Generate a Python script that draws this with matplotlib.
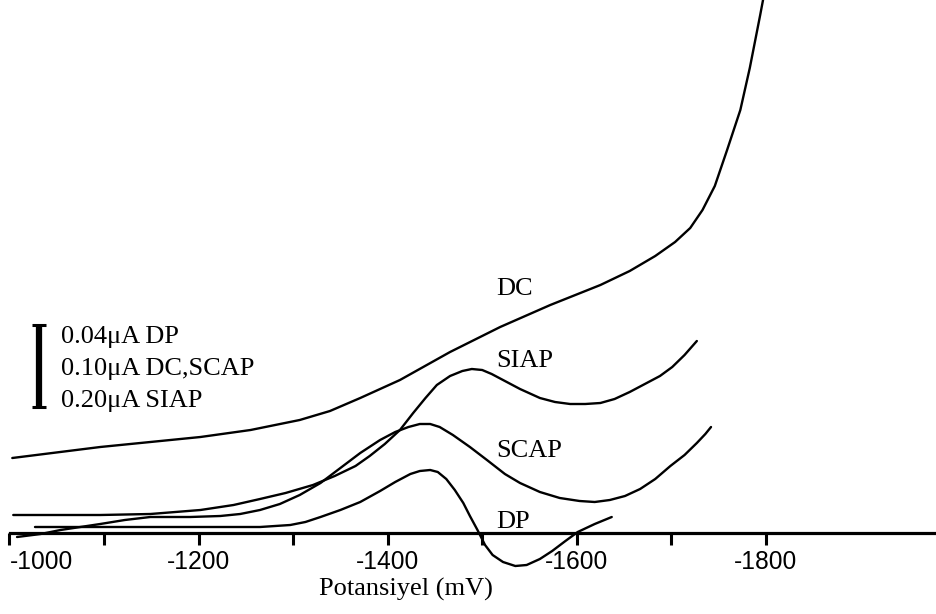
"""Polarogram comparison: DC, SIAP, SCAP and DP curves vs potential."""

import matplotlib

matplotlib.use("Agg")
import matplotlib.pyplot as plt
import numpy as np

# potential (mV) and signal (arbitrary units)
dc_mv = [-1003, -1096, -1202, -1255, -1307, -1339, -1371, -1413, -1466, -1519,
         -1572, -1625, -1656, -1683, -1704, -1720, -1733, -1746, -1759, -1773,
         -1783, -1794, -1797]
dc_i = [0.75, 0.86, 0.96, 1.03, 1.13, 1.22, 1.35, 1.53, 1.81, 2.06,
        2.28, 2.48, 2.62, 2.77, 2.91, 3.05, 3.23, 3.47, 3.83, 4.23,
        4.65, 5.18, 5.33]

siap_mv = [-1004, -1096, -1149, -1202, -1237, -1265, -1292, -1321, -1344, -1366,
           -1381, -1397, -1413, -1427, -1440, -1452, -1466, -1479, -1489, -1500,
           -1510, -1524, -1540, -1561, -1577, -1593, -1609, -1625, -1640, -1656,
           -1672, -1688, -1701, -1714, -1727]
siap_i = [0.18, 0.18, 0.19, 0.23, 0.28, 0.34, 0.40, 0.48, 0.57, 0.67,
          0.77, 0.89, 1.03, 1.20, 1.35, 1.48, 1.57, 1.62, 1.64, 1.63,
          1.59, 1.52, 1.44, 1.35, 1.31, 1.29, 1.29, 1.30, 1.34, 1.41,
          1.49, 1.57, 1.66, 1.78, 1.92]

scap_mv = [-1008, -1033, -1054, -1075, -1096, -1122, -1149, -1191, -1223, -1244,
           -1265, -1286, -1307, -1329, -1350, -1371, -1392, -1408, -1422, -1434,
           -1445, -1455, -1469, -1487, -1505, -1524, -1540, -1561, -1582, -1603,
           -1619, -1635, -1651, -1667, -1683, -1699, -1714, -1727, -1736, -1742]
scap_i = [-0.04, -0.01, 0.03, 0.06, 0.09, 0.13, 0.16, 0.16, 0.17, 0.19,
          0.23, 0.29, 0.38, 0.50, 0.65, 0.80, 0.93, 1.01, 1.06, 1.09,
          1.09, 1.06, 0.98, 0.86, 0.73, 0.59, 0.50, 0.41, 0.35, 0.32,
          0.31, 0.33, 0.37, 0.44, 0.54, 0.67, 0.78, 0.90, 0.99, 1.06]

dp_mv = [-1027, -1149, -1265, -1297, -1313, -1329, -1350, -1371, -1392, -1408,
         -1424, -1434, -1445, -1453, -1462, -1471, -1480, -1487, -1495, -1503,
         -1511, -1522, -1535, -1547, -1561, -1574, -1588, -1601, -1619, -1637]
dp_i = [0.06, 0.06, 0.06, 0.08, 0.11, 0.16, 0.23, 0.31, 0.42, 0.51,
        0.59, 0.62, 0.63, 0.61, 0.54, 0.43, 0.30, 0.17, 0.03, -0.12,
        -0.22, -0.29, -0.33, -0.32, -0.26, -0.18, -0.08, 0.01, 0.09, 0.16]

major_ticks = [-1000, -1200, -1400, -1600, -1800]
minor_ticks = [-1100, -1300, -1500, -1700]
scale_lines = ["0.04\u03bcA DP", "0.10\u03bcA DC,SCAP", "0.20\u03bcA SIAP"]

SERIF = "Liberation Serif"
SANS = "Liberation Sans"

fig = plt.figure(figsize=(9.37, 6.14), dpi=100)
ax = fig.add_axes([0, 81 / 614, 1, 533 / 614])

line_kw = dict(color="black", lw=1.7, clip_on=False, solid_joinstyle="round",
               solid_capstyle="round")
ax.plot(dc_mv, dc_i, **line_kw)
ax.plot(siap_mv, siap_i, **line_kw)
ax.plot(scap_mv, scap_i, **line_kw)
ax.plot(dp_mv, dp_i, **line_kw)

# curve labels
for name, yb in [("DC", 2.38), ("SIAP", 1.66), ("SCAP", 0.76), ("DP", 0.05)]:
    ax.text(-1515, yb, name, fontsize=19, family=SERIF, ha="left", va="baseline")

# scale bar + legend text
bx, b0, b1, cw = 39 / 937, (533 - 407) / 533, (533 - 325) / 533, 7 / 937
ax.plot([bx, bx], [b0, b1], color="black", lw=4.5, transform=ax.transAxes,
        solid_capstyle="butt")
for yy in (b0, b1):
    ax.plot([bx - cw, bx + cw], [yy, yy], color="black", lw=2.2,
            transform=ax.transAxes, solid_capstyle="butt")
for k, txt in enumerate(scale_lines):
    ax.text(61 / 937, (533 - 343 - 32 * k) / 533, txt, transform=ax.transAxes,
            fontsize=19, family=SERIF, ha="left", va="baseline")

ax.set_xlim(-990, -1981)
ax.set_ylim(0, 5.33)
ax.set_xticks(major_ticks)
ax.set_xticks(minor_ticks, minor=True)
ax.set_xticklabels([str(t) for t in major_ticks], fontsize=17.7, family=SANS)
ax.get_xticklabels()[0].set_horizontalalignment("left")
ax.tick_params(axis="x", which="both", direction="out", length=8.5, width=2.2,
               pad=4, color="black")
ax.set_yticks([])
for s in ("top", "left", "right"):
    ax.spines[s].set_visible(False)
ax.spines["bottom"].set_linewidth(2.3)
ax.spines["bottom"].set_bounds(-1001, -1981)

ax.set_xlabel("Potansiyel (mV)", fontsize=19, family=SERIF, va="top")
ax.xaxis.set_label_coords(406 / 937, -45 / 533)

fig.savefig("out.png", dpi=100)
